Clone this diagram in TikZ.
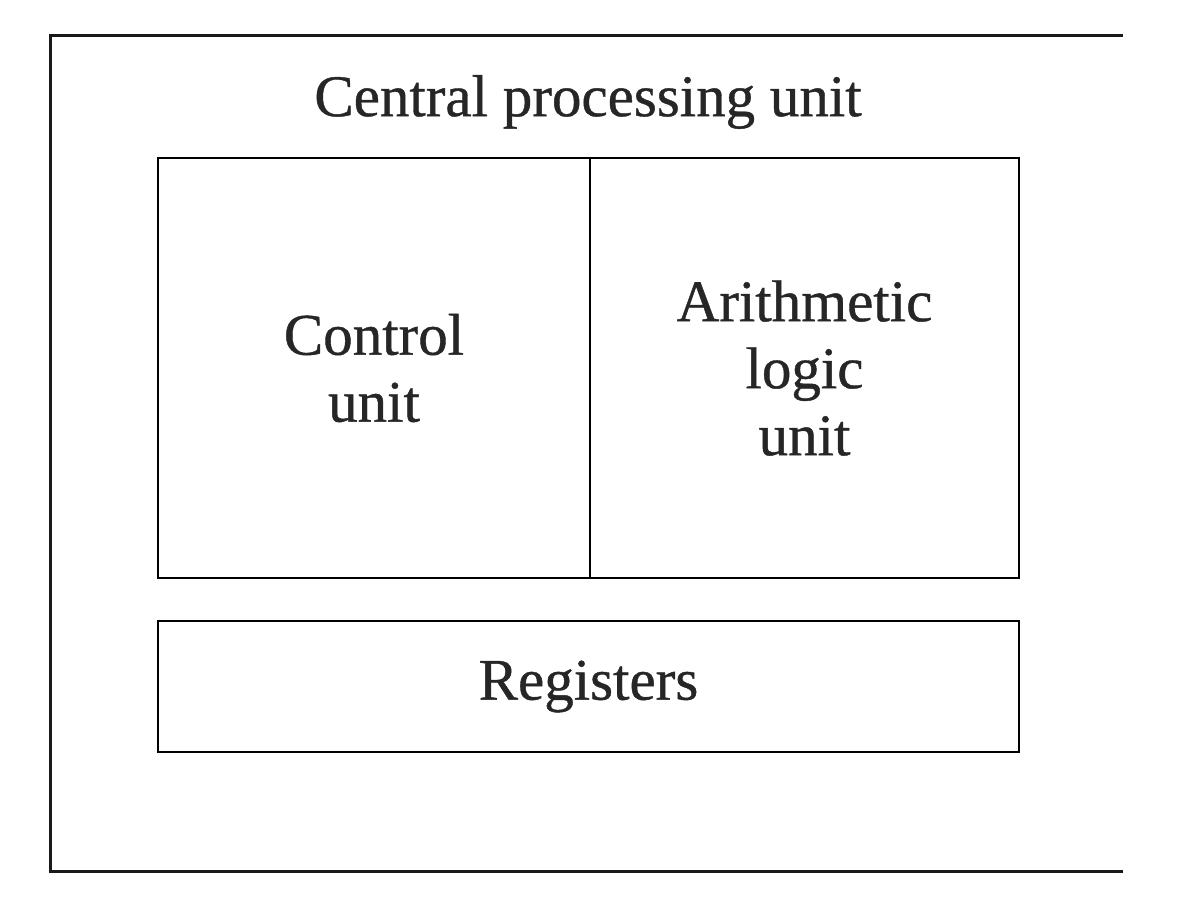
\documentclass[tikz,border=0pt]{standalone}
\usepackage{fontspec}
\setmainfont{Liberation Serif}
\newfontfamily\heavyserif{Liberation Serif}[FakeBold=0.7]
\begin{document}
\begin{tikzpicture}[x=1pt,y=-1pt,
  lbl/.style={font=\heavyserif\fontsize{59}{67}\selectfont, text=black!85},
  box/.style={draw, line width=2pt, inner sep=0pt, anchor=north west, align=center, lbl},
  frame/.style={line width=3pt, black!90}]
\useasboundingbox (0,0) rectangle (1198,916);
\coordinate (tr) at (1123,35);
\coordinate (tl) at (50,35);
\coordinate (bl) at (50,871);
\coordinate (br) at (1123,871);
\draw[frame] (tr) -- (tl) -- (bl) -- (br);
\node[lbl] (title) at (588,102) {Central processing unit};
\node[box, minimum width=432pt, minimum height=420pt] (cu) at (157,157) {Control\\unit};
\node[box, minimum width=429pt, minimum height=420pt] (alu) at (589,157) {Arithmetic\\logic\\unit};
\node[box, minimum width=861pt, minimum height=131pt] (reg) at (157,620) {Registers};
\end{tikzpicture}
\end{document}
